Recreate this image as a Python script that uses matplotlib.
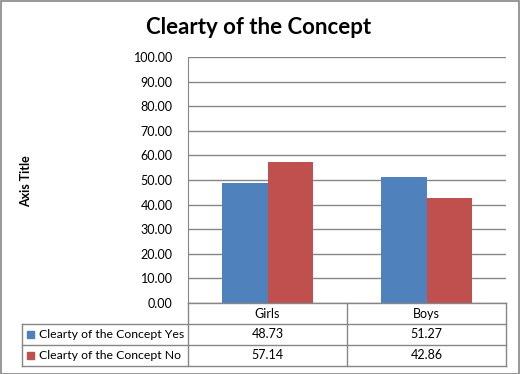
import matplotlib
matplotlib.use("Agg")
import matplotlib.pyplot as plt
from matplotlib.patches import Rectangle

categories = ['Girls', 'Boys']
series_names = ['Clearty of the Concept Yes', 'Clearty of the Concept No']
yes_values = [48.73, 51.27]
no_values = [57.14, 42.86]
series_values = [yes_values, no_values]
colors = ['#4F81BD', '#C0504D']
y_ticks = [0, 10, 20, 30, 40, 50, 60, 70, 80, 90, 100]

W, H = 520, 374
fig = plt.figure(figsize=(W / 100, H / 100), dpi=100)
plt.rcParams['font.family'] = ['Lato', 'DejaVu Sans']

# plot area in pixels
left, right, top, bottom = 188, 506, 57, 303
ax = fig.add_axes([left / W, 1 - bottom / H, (right - left) / W, (bottom - top) / H])

grid_col = '#868686'
bar_w = 1 / 3.5
x = range(len(categories))
for i, vals in enumerate(series_values):
    pos = [c + (i - 0.5) * bar_w for c in x]
    ax.bar(pos, vals, width=bar_w, color=colors[i], zorder=3)

ax.set_xlim(-0.5, len(categories) - 0.5)
ax.set_ylim(0, 100)
ax.set_yticks(y_ticks)
ax.set_yticklabels(['%.2f' % t for t in y_ticks], fontsize=9)
ax.tick_params(axis='y', length=0, pad=11)
ax.set_xticks([])
ax.grid(axis='y', color=grid_col, linewidth=1, zorder=0)
for s in ['top', 'right', 'bottom']:
    ax.spines[s].set_visible(False)
ax.spines['left'].set_color(grid_col)

# data table below the plot
row_h = [303, 324, 344.5, 366]
tab_left = 22
col_div = 347
def fy(p):
    return 1 - p / H
def fx(p):
    return p / W

lines = []
lines.append(([left, right], [row_h[0], row_h[0]]))
for yy in row_h[1:]:
    lines.append(([tab_left, right], [yy, yy]))
lines.append(([left, left], [row_h[0], row_h[3]]))
lines.append(([col_div, col_div], [row_h[0], row_h[3]]))
lines.append(([right, right], [row_h[0], row_h[3]]))
lines.append(([tab_left, tab_left], [row_h[1], row_h[3]]))
for xs, ys in lines:
    fig.add_artist(plt.Line2D([fx(v) for v in xs], [fy(v) for v in ys],
                              color=grid_col, linewidth=1))

col_centers = [(left + col_div) / 2, (col_div + right) / 2]
for c, cat in enumerate(categories):
    fig.text(fx(col_centers[c]), fy((row_h[0] + row_h[1]) / 2), cat,
             ha='center', va='center', fontsize=9)
for i, name in enumerate(series_names):
    yc = (row_h[i + 1] + row_h[i + 2]) / 2
    fig.add_artist(Rectangle((fx(27), fy(yc + 3.5)), 7 / W, 7 / H,
                             color=colors[i], transform=fig.transFigure))
    fig.text(fx(39), fy(yc), name, ha='left', va='center', fontsize=8.8)
    for c in range(len(categories)):
        fig.text(fx(col_centers[c]), fy(yc), '%.2f' % series_values[i][c],
                 ha='center', va='center', fontsize=9)

fig.text(fx(259), fy(27), 'Clearty of the Concept', ha='center', va='center',
         fontsize=16, fontweight='bold')
fig.text(fx(26), fy(181), 'Axis Title', ha='center', va='center',
         rotation=90, fontsize=9, fontweight='bold')

# outer chart border
fig.add_artist(Rectangle((0.5 / W, 0.5 / H), (W - 1.5) / W, (H - 1.5) / H,
                         fill=False, edgecolor='#868686', linewidth=1.2,
                         transform=fig.transFigure))

fig.savefig('out.png', dpi=100)
